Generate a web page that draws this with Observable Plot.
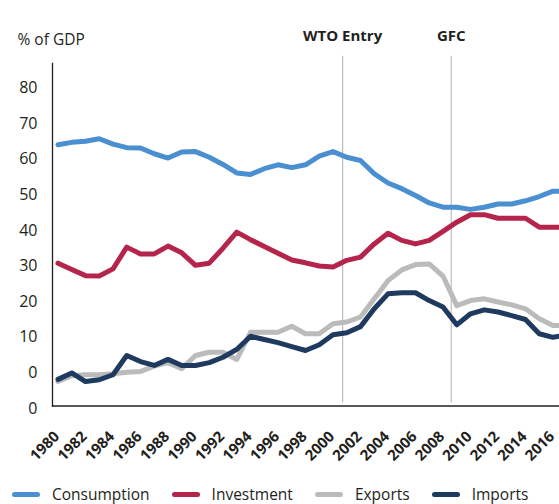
<!DOCTYPE html>
<html><head><meta charset="utf-8">
<script src="https://cdn.jsdelivr.net/npm/d3@7"></script>
<script src="https://cdn.jsdelivr.net/npm/@observablehq/plot@0.6"></script>
<style>
body{margin:0;background:#fff;font-family:"Open Sans",sans-serif;color:#231f20;}
#wrap{position:relative;width:559px;height:504px;overflow:hidden;}
#chart svg{overflow:visible;}
#legend{position:absolute;left:12px;top:486px;display:flex;gap:22px;font-size:15.5px;line-height:16px;white-space:nowrap;}
.item{display:flex;align-items:center;gap:12px;}
.sw{width:28px;height:5px;border-radius:3px;}
</style></head><body><div id="wrap"><div id="chart"></div><div id="legend"></div></div>
<script>
const years = [1980,1981,1982,1983,1984,1985,1986,1987,1988,1989,1990,1991,1992,1993,1994,1995,1996,1997,1998,1999,2000,2001,2002,2003,2004,2005,2006,2007,2008,2009,2010,2011,2012,2013,2014,2015,2016,2017];
const consumption = [64.0,64.7,65.0,65.7,64.2,63.2,63.1,61.5,60.3,62.0,62.1,60.5,58.5,56.1,55.7,57.3,58.4,57.6,58.4,60.8,62.1,60.5,59.6,55.9,53.3,51.7,49.8,47.7,46.5,46.5,45.9,46.5,47.4,47.4,48.3,49.5,51.0,51.0];
const investment = [30.8,29.0,27.3,27.2,29.2,35.3,33.4,33.4,35.6,33.7,30.2,30.8,35.0,39.5,37.4,35.5,33.6,31.7,30.9,30.0,29.7,31.6,32.5,36.2,39.2,37.2,36.2,37.2,39.7,42.3,44.4,44.4,43.4,43.4,43.4,40.9,40.9,40.9];
const exportsShare = [-2.4,-0.8,-0.5,-0.5,-0.2,0.2,0.4,1.9,2.9,1.2,4.9,5.8,5.8,3.8,11.4,11.4,11.4,13.1,11.0,11.0,13.8,14.3,15.7,20.8,25.9,28.9,30.4,30.6,27.2,18.9,20.3,20.8,19.9,19.1,18.0,15.2,13.3,13.3];
const importsShare = [-1.8,0.0,-2.4,-1.9,-0.5,4.9,3.2,2.1,3.8,2.1,2.1,2.9,4.4,6.6,10.3,9.4,8.5,7.4,6.3,7.9,10.7,11.3,13.0,18.0,22.2,22.5,22.5,20.3,18.5,13.5,16.6,17.7,17.1,16.1,15.0,11.0,10.0,10.7];

const seriesNames = ["Consumption","Investment","Exports","Imports"];
const seriesColors = ["#4a90d0","#b5254b","#bbbbbb","#1f3a5f"];
const yTicks = [-10,0,10,20,30,40,50,60,70,80];
const yTickLabels = ["0","0","10","20","30","40","50","60","70","80"];
const xTicks = [1980,1982,1984,1986,1988,1990,1992,1994,1996,1998,2000,2002,2004,2006,2008,2010,2012,2014,2016];
const eventNames = ["WTO Entry","GFC"];
const eventYears = [2000.7,2008.6];
const yAxisTitle = "% of GDP";

const seriesValues = [consumption, investment, exportsShare, importsShare];
const rows = [];
seriesValues.forEach((arr,i)=>arr.forEach((v,j)=>rows.push({series:seriesNames[i], year:years[j], value:v})));
const events = eventNames.map((n,i)=>({name:n, year:eventYears[i]}));

const ink = "#231f20";
const chart = Plot.plot({
  width:559, height:484,
  marginTop:63, marginBottom:78.5, marginLeft:52, marginRight:0,
  style:{fontFamily:'"Open Sans",sans-serif', color:ink, background:"transparent"},
  x:{domain:[1980,2016], range:[57.5,552.5]},
  y:{domain:[-10,80], range:[408.1,87.3]},
  color:{domain:seriesNames, range:seriesColors},
  marks:[
    Plot.ruleX(events, {x:"year", stroke:"#bdbdbd", strokeWidth:1.2, insetTop:-7.3, insetBottom:3.2}),
    Plot.lineY(rows, {x:"year", y:"value", z:"series", stroke:"series", strokeWidth:5, strokeLinejoin:"round", strokeLinecap:"round", clip:true}),
    Plot.frame({anchor:"left", stroke:ink, strokeWidth:1.3}),
    Plot.frame({anchor:"bottom", stroke:ink, strokeWidth:1.3}),
    Plot.axisY({ticks:yTicks, tickFormat:d=>yTickLabels[yTicks.indexOf(d)], tickSize:0, tickPadding:15, fontSize:16, label:null}),
    Plot.axisX({ticks:xTicks, tickFormat:d=>String(d), tickRotate:-45, tickSize:0, tickPadding:28, textAnchor:"end", lineAnchor:"middle", dx:-1, fontSize:15, fontWeight:"bold", label:null}),
    Plot.text(events, {x:"year", text:"name", frameAnchor:"top", dy:-33, fontSize:15, fontWeight:"bold", fill:ink}),
    Plot.text([yAxisTitle], {text:d=>d, frameAnchor:"top-left", dx:-35, dy:-30, textAnchor:"start", fontSize:15.5, fill:ink})
  ]
});
document.getElementById("chart").appendChild(chart);

const legend = document.getElementById("legend");
seriesNames.forEach((n,i)=>{
  const item = document.createElement("div"); item.className="item";
  const sw = document.createElement("span"); sw.className="sw"; sw.style.background=seriesColors[i];
  const t = document.createElement("span"); t.textContent=n;
  item.appendChild(sw); item.appendChild(t); legend.appendChild(item);
});
</script></body></html>
